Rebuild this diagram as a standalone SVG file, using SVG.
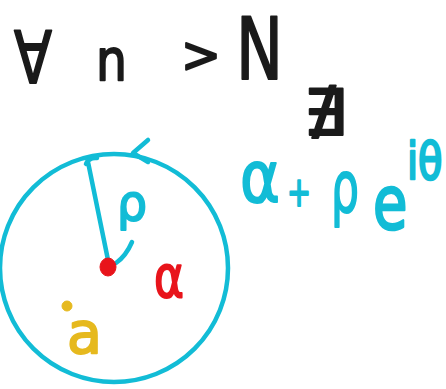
<svg xmlns="http://www.w3.org/2000/svg" width="446" height="389" viewBox="0 0 446 389">
<style>
text{font-family:"DejaVu Sans","Liberation Sans",sans-serif;stroke-width:2;stroke-linejoin:round}
.k{fill:#1a1a1a;stroke:#1a1a1a}
.c{fill:#12BCD6;stroke:#12BCD6}
.r{fill:#E8141B;stroke:#E8141B}
.y{fill:#E6B91E;stroke:#E6B91E}
.cs{fill:none;stroke:#12BCD6;stroke-width:4.5;stroke-linecap:round;stroke-linejoin:round}
</style>
<rect width="446" height="389" fill="#ffffff"/>
<g id="statement">
<text class="k" x="14" y="83" font-size="72" textLength="38" lengthAdjust="spacingAndGlyphs">∀</text>
<text class="k" x="96" y="80" font-size="57" textLength="31" lengthAdjust="spacingAndGlyphs">n</text>
<text class="k" x="181" y="72" font-size="50" textLength="40" lengthAdjust="spacingAndGlyphs">&gt;</text>
<text class="k" x="236" y="79" font-size="86" textLength="47" lengthAdjust="spacingAndGlyphs">N</text>
<text class="k" x="303" y="135" font-size="64" textLength="44" lengthAdjust="spacingAndGlyphs">∄</text>
</g>
<g id="formula">
<text class="c" x="240" y="202" font-size="72" textLength="40" lengthAdjust="spacingAndGlyphs">α</text>
<text class="c" x="287" y="206" font-size="40" textLength="24" lengthAdjust="spacingAndGlyphs">+</text>
<text class="c" x="331" y="212" font-size="72" textLength="28" lengthAdjust="spacingAndGlyphs">ρ</text>
<text class="c" transform="translate(373,229) scale(1,1.35)" x="0" y="0" font-size="56">e</text>
<text class="c" transform="translate(407,179) scale(1,1.3)" x="0" y="0" font-size="40">iθ</text>
</g>
<g id="disc">
<circle class="cs" cx="114" cy="268" r="114"/>
<path class="cs" d="M148,140 L133,153 L148,162"/>
</g>
<g id="radius">
<path class="cs" d="M86,164 Q89,157 97,158 M88,162 L108,260"/>
<path class="cs" d="M132,242 Q126,256 116,263"/>
<text class="c" x="117" y="220" font-size="50" textLength="30" lengthAdjust="spacingAndGlyphs">ρ</text>
</g>
<g id="center">
<ellipse class="r" cx="108" cy="267" rx="8" ry="9"/>
<text class="r" x="154" y="297" font-size="58" textLength="30" lengthAdjust="spacingAndGlyphs">α</text>
</g>
<g id="point-a">
<circle class="y" cx="67" cy="306" r="5"/>
<text class="y" x="67" y="353" font-size="57" textLength="35" lengthAdjust="spacingAndGlyphs">a</text>
</g>
</svg>
